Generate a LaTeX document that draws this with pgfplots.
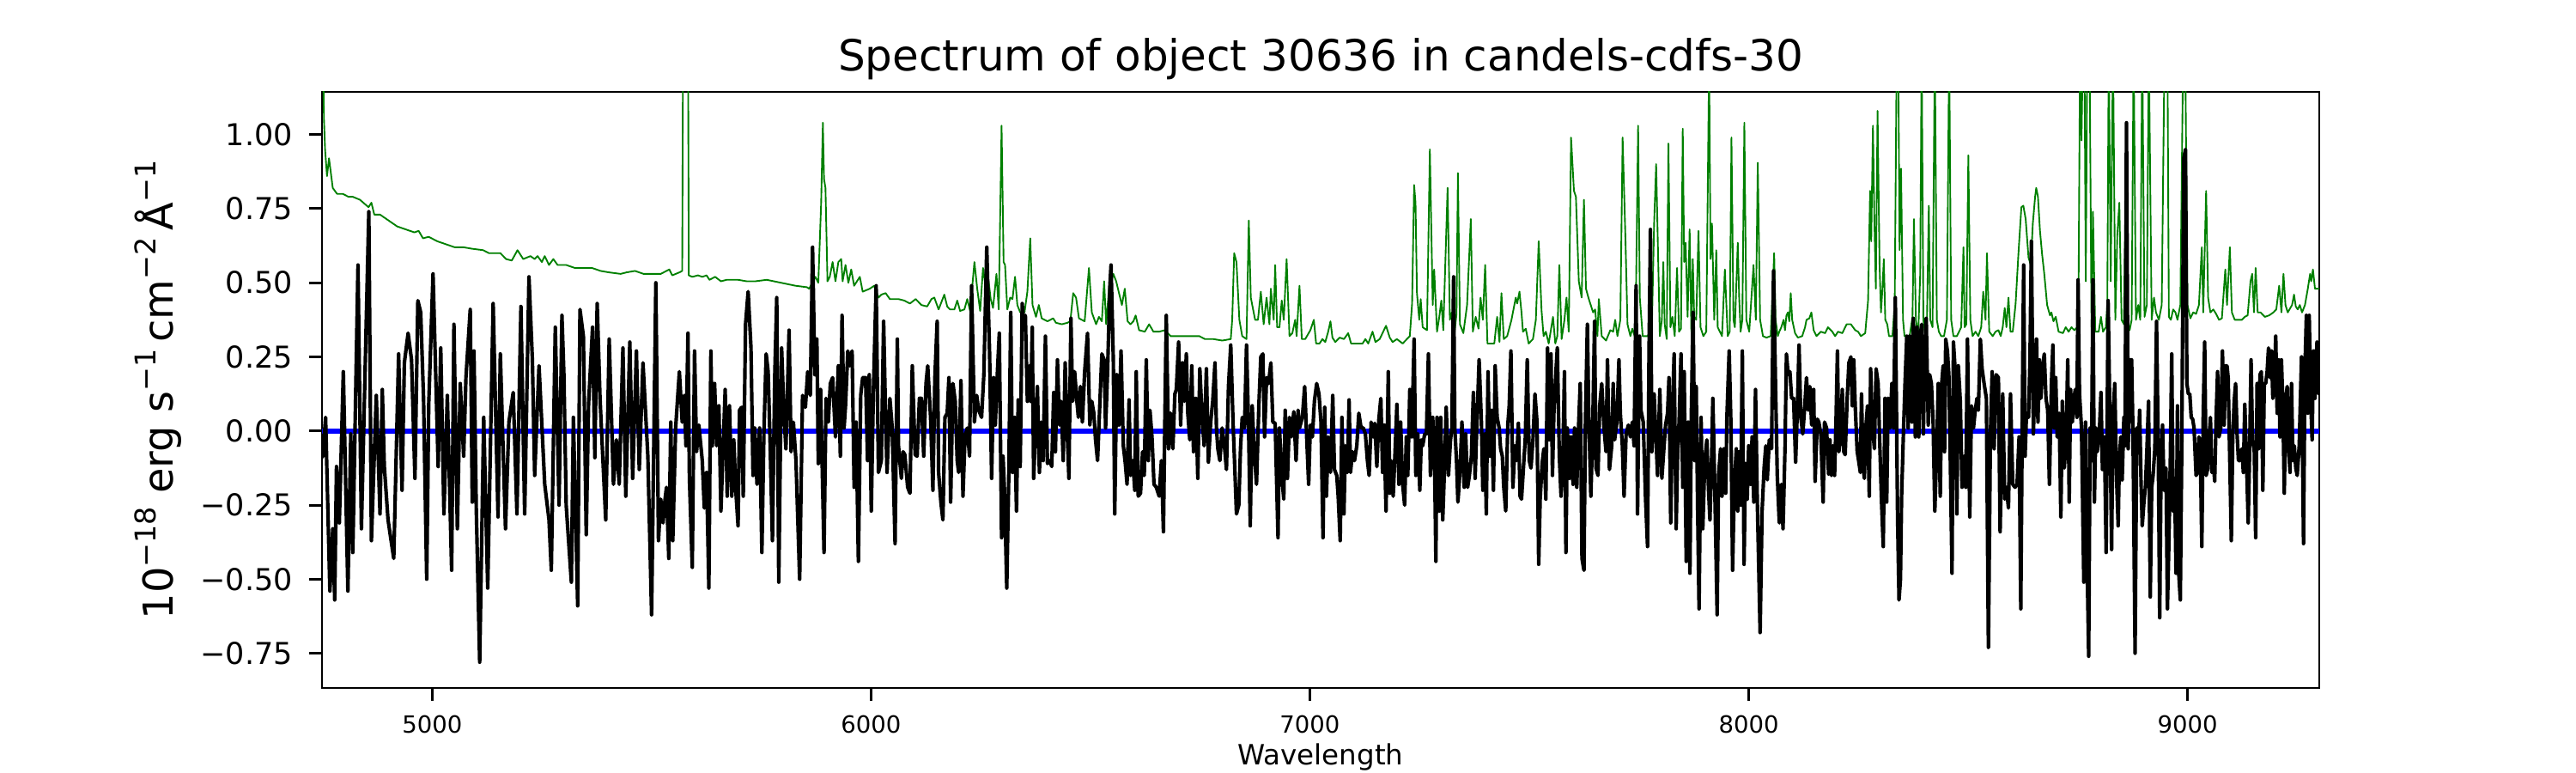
\documentclass[border=0pt]{standalone}
\usepackage{fontspec}
\setmainfont{DejaVu Sans}
\usepackage{pgfplots}
\pgfplotsset{compat=1.18}
\definecolor{mplgreen}{HTML}{008000}
\definecolor{mplblue}{HTML}{0000FF}
\newcommand\sups[1]{\raisebox{0.42em}{\fontsize{8}{8}\selectfont #1}}
\begin{document}
\begin{tikzpicture}
\path[use as bounding box] (0,0) rectangle (720pt,216pt);
\begin{axis}[
  at={(90pt,23.76pt)}, anchor=south west,
  scale only axis, width=558.24pt, height=166.56pt,
  xmin=4749, xmax=9300, ymin=-0.867, ymax=1.144,
  axis line style={line width=0.7pt},
  xtick={5000,6000,7000,8000,9000},
  xticklabels={5000,6000,7000,8000,9000},
  ytick={-0.75,-0.5,-0.25,0,0.25,0.5,0.75,1},
  yticklabels={−0.75,−0.50,−0.25,0.00,0.25,0.50,0.75,1.00},
  tick align=outside, xtick pos=bottom, ytick pos=left,
  major tick length=3.6pt,
  every tick/.style={black, line width=0.7pt},
  xticklabel style={font=\fontsize{6.6}{7}\selectfont, anchor=base, inner sep=0pt, yshift=-9.1pt},
  yticklabel style={font=\fontsize{8.4}{9}\selectfont, anchor=east, inner sep=0pt, xshift=-4.4pt},
  every axis title/.style={at={(axis description cs:0.5,1)}, anchor=base, yshift=5.76pt, inner sep=0pt, font=\fontsize{12}{14}\selectfont},
  every axis x label/.style={at={(axis description cs:0.5,0)}, anchor=base, yshift=-21.4pt, inner sep=0pt, font=\fontsize{7.8}{9}\selectfont},
  every axis y label/.style={at={(axis description cs:0,0.5)}, xshift=-41.6pt, rotate=90, anchor=base, inner sep=0pt, font=\fontsize{11.5}{13}\selectfont},
  title={Spectrum of object 30636 in candels-cdfs-30},
  xlabel={Wavelength},
  ylabel={10\sups{−18} erg s\sups{−1}\,cm\sups{−2}\,Å\sups{−1}},
  clip=true,
]
% error / sky spectrum
\addplot[mplgreen, line width=0.45pt, line join=round] coordinates {
(4749,1.5)(4751,1.3)(4753.5,1.05)(4756,0.95)(4760.4,0.86)(4765,0.92)(4773.5,0.82)(4783.3,0.80)(4796.3,0.80)(4809.4,0.79)(4819.2,0.79)(4835.5,0.78)(4855,0.755)(4861.6,0.77)(4868.1,0.73)(4881.2,0.73)(4900.8,0.71)(4920.4,0.69)(4940,0.68)(4959.5,0.67)(4969.3,0.675)(4979.1,0.65)(4992.2,0.655)(5011.7,0.64)(5031.3,0.63)(5050.9,0.62)(5070.5,0.62)(5090,0.615)(5116.2,0.61)(5129.2,0.60)(5155.3,0.60)(5168.4,0.58)(5181.4,0.575)(5194.5,0.61)(5207.5,0.58)(5223.9,0.59)(5233.6,0.58)(5240.2,0.59)(5250,0.57)(5256.5,0.59)(5266.3,0.56)(5276.1,0.58)(5285.9,0.56)(5305.4,0.56)(5325,0.55)(5344.6,0.55)(5364.2,0.55)(5383.8,0.54)(5403.4,0.535)(5429.5,0.53)(5442.6,0.535)(5462.1,0.54)(5481.7,0.53)(5520.9,0.53)
(5540.5,0.545)(5547,0.525)(5563.3,0.535)(5569.8,0.54)(5571.8,1.4)(5577,1.5)(5582.9,1.4)(5584.8,0.525)(5592.7,0.52)(5605.7,0.525)(5615.5,0.52)(5625.3,0.525)(5631.8,0.51)(5644.9,0.52)(5658,0.505)(5671,0.51)(5697.1,0.51)(5716.7,0.505)(5736.3,0.505)(5762.4,0.51)(5795,0.50)(5827.7,0.49)(5853.8,0.485)(5859,0.48)(5873.3,0.52)(5879.9,0.50)(5886.4,0.77)(5890.3,1.04)(5892.9,0.85)(5896.2,0.82)(5900.8,0.505)(5906,0.52)(5912.5,0.57)(5919,0.505)(5925.6,0.57)(5932.1,0.58)(5935.3,0.505)(5941.9,0.56)(5948.4,0.50)(5954.9,0.545)(5961.5,0.49)(5968,0.505)(5974.5,0.52)(5981,0.47)(5997.3,0.48)(6007.2,0.49)(6017,0.45)(6023.5,0.46)(6033.3,0.465)(6043,0.445)(6062.6,0.445)(6075.7,0.44)(6088.7,0.43)(6101.8,0.445)(6114.8,0.425)(6127.9,0.42)(6137.7,0.445)(6144.2,0.45)(6154,0.41)(6167,0.46)(6173.6,0.42)(6180,0.41)(6190,0.41)(6196.5,0.44)(6203,0.405)(6212.7,0.41)(6219.3,0.445)(6225.8,0.405)(6235.6,0.57)(6242,0.48)(6248.7,0.405)(6255.2,0.55)(6261.7,0.48)(6268,0.505)
(6272.7,0.445)(6278,0.415)(6285.8,0.53)(6291,0.41)(6297.5,1.03)(6302.1,0.57)(6305.4,0.56)(6310.6,0.41)(6317.1,0.45)(6322.3,0.445)(6328.2,0.52)(6333.4,0.425)(6340,0.40)(6349.8,0.40)(6356.3,0.47)(6362.8,0.65)(6368,0.425)(6375.9,0.385)(6382.4,0.425)(6388.9,0.38)(6402,0.37)(6415,0.38)(6421.5,0.365)(6434.6,0.36)(6447.6,0.365)(6454.2,0.37)(6460.7,0.465)(6467.2,0.45)(6473.8,0.38)(6486.8,0.37)(6496.6,0.55)(6503.1,0.40)(6512.9,0.36)(6519.4,0.385)(6526,0.37)(6531.2,0.505)(6535.8,0.36)(6542.3,0.48)(6552.1,0.53)(6558.6,0.505)(6565.1,0.465)(6571.7,0.425)(6578.2,0.48)(6584.7,0.37)(6591.3,0.36)(6597.8,0.37)(6603,0.39)(6610.8,0.34)(6623.9,0.335)(6633.7,0.36)(6643.5,0.335)(6656.5,0.335)(6669.6,0.34)(6682.6,0.32)(6695.7,0.32)(6708.7,0.32)(6721.8,0.32)(6734.8,0.32)(6747.9,0.32)(6761,0.31)(6780.5,0.31)(6800.1,0.305)(6819.7,0.31)(6823,0.375)(6827.5,0.60)(6832.7,0.57)(6839.3,0.375)(6845.8,0.32)(6855.6,0.31)(6860.8,0.71)(6865.4,0.45)(6875.2,0.375)(6881.7,0.375)(6888.2,0.47)(6894.7,0.36)(6901.3,0.45)(6907.8,0.36)(6911.1,0.48)(6917.6,0.375)(6920.9,0.56)(6925.4,0.35)(6930.7,0.35)(6935.9,0.44)(6940.5,0.375)(6947,0.58)(6953.5,0.32)(6960,0.33)(6966.5,0.375)(6969.8,0.32)(6976.3,0.49)(6981.6,0.31)(6989.4,0.31)(7001.1,0.34)(7009,0.375)(7014.2,0.295)(7022,0.295)(7028.6,0.31)
(7035.1,0.30)(7041.7,0.335)(7046.9,0.37)(7051.4,0.315)(7058,0.30)(7067.8,0.315)(7077.6,0.31)(7087.3,0.33)(7093.9,0.295)(7106.9,0.295)(7120,0.295)(7126.5,0.31)(7133,0.295)(7142.8,0.335)(7149.4,0.30)(7159.1,0.31)(7173.5,0.355)(7182,0.315)(7188.5,0.30)(7198.3,0.31)(7211.4,0.295)(7221.1,0.31)(7227.7,0.32)(7232.9,0.43)(7237.5,0.83)(7240.7,0.77)(7244,0.465)(7249.2,0.375)(7252.5,0.445)(7257,0.35)(7266.8,0.34)(7273.4,0.95)(7279.9,0.425)(7283.2,0.545)(7289.7,0.335)(7294.9,0.385)(7299.5,0.44)(7304,0.34)(7313.8,0.82)(7319,0.375)(7323.6,0.40)(7328.8,0.32)(7334.1,0.395)(7337.3,0.87)(7341.9,0.36)(7349.7,0.33)(7358.2,0.425)(7366.7,0.715)(7371.3,0.335)(7377.8,0.385)(7384.3,0.345)(7388.9,0.45)(7394.1,0.375)(7399.4,0.56)(7404.6,0.295)(7413.7,0.295)(7420.2,0.295)(7426.7,0.385)(7432,0.30)(7436.5,0.465)(7441.8,0.31)(7449.6,0.32)(7459.4,0.375)(7462.6,0.40)(7469.2,0.45)(7472.4,0.43)(7477.6,0.47)(7482.2,0.40)(7485.5,0.335)(7492,0.345)(7498.5,0.295)(7508.3,0.31)(7514.9,0.375)(7521.4,0.64)(7527.9,0.406)(7532.5,0.32)(7537.7,0.335)(7544.2,0.295)(7554,0.385)(7559.2,0.295)(7563.8,0.32)(7568.4,0.56)(7573.6,0.31)(7580.1,0.375)(7584.7,0.45)(7589.9,0.335)(7595.1,0.99)(7601.7,0.81)(7606.2,0.79)(7612.8,0.505)(7619.3,0.45)(7624.5,0.78)(7629.1,0.48)(7635.6,0.445)(7645.4,0.40)(7650,0.41)(7655.2,0.32)(7658.4,0.445)(7665,0.32)(7674.8,0.305)(7684.6,0.34)(7691.1,0.335)(7695.7,0.375)(7700.8,0.32)(7707.4,0.375)(7712.6,0.99)(7719.2,0.64)(7723.7,0.36)(7730.3,0.32)(7734.8,0.345)(7740.1,0.32)(7743.3,0.49)(7747.9,1.03)(7751.8,0.45)(7758.3,0.32)(7762.9,0.32)(7769.4,0.32)(7779.2,0.345)(7784.4,0.70)(7789,0.90)
(7797.4,0.32)(7802,0.375)(7805.3,0.57)(7808.5,0.36)(7813.1,0.31)(7817,0.97)(7821.6,0.35)(7826.1,0.385)(7831.4,0.32)(7836.6,0.55)(7841.2,0.335)(7845.7,0.345)(7849.6,1.02)(7852.9,0.57)(7856.2,0.635)(7860.7,0.385)(7865.3,0.68)(7869.2,0.335)(7872.5,0.58)(7875.7,0.385)(7880.3,0.375)(7885.5,0.675)(7890.1,0.35)(7896.6,0.32)(7903.2,0.335)(7909.7,1.25)(7913,0.58)(7916.2,0.70)(7921.4,0.375)(7926,0.61)(7929.3,0.35)(7939.1,0.32)(7945.6,0.545)(7952.1,0.32)(7956.7,0.335)(7960.6,0.99)(7965.2,0.375)(7968.4,0.35)(7975,0.635)(7978.2,0.45)(7981.5,0.335)(7985.4,0.375)(7990,1.04)(7994.5,0.375)(8001.1,0.335)(8010.9,0.56)(8016.1,0.375)(8020.6,0.905)(8025.9,0.375)(8032.4,0.32)(8040.2,0.315)(8050,0.32)(8054.6,0.48)(8057.9,0.60)(8061.1,0.375)(8066.3,0.32)(8069.6,0.335)(8074.2,0.35)(8079.4,0.375)(8082.6,0.34)(8085.9,0.39)(8089.2,0.40)(8092.4,0.37)(8095.7,0.465)(8099,0.375)(8105.5,0.33)(8112,0.315)(8121.8,0.32)(8128.3,0.35)(8131.6,0.375)(8138.1,0.38)(8142.7,0.40)(8147.9,0.34)(8154.4,0.32)(8164.2,0.335)(8174,0.33)(8180.5,0.35)(8187.1,0.34)(8190.3,0.335)(8196.9,0.32)(8203.4,0.335)(8213.2,0.33)(8223,0.36)(8232.8,0.36)(8242.6,0.34)(8249.1,0.335)(8255.6,0.32)(8265.4,0.33)(8271.9,0.44)(8276.5,0.81)(8279.1,0.64)(8283,1.03)(8286.3,0.71)(8289.6,0.48)(8293.5,1.08)(8298.1,0.56)(8301.3,0.40)(8304.6,0.48)(8307.8,0.58)(8311.1,0.375)(8315.7,0.36)(8319.6,0.32)(8327.4,0.32)(8332.6,0.425)(8337.2,1.3)(8340.5,1.3)(8343.7,0.61)(8347,0.885)(8351.6,0.375)(8354.9,0.32)(8360.1,0.32)(8366.6,0.32)(8373.1,0.385)(8376.4,0.715)(8380.9,0.375)(8386.1,0.32)(8390.7,0.53)(8394,1.3)(8397.9,0.375)(8402.5,0.32)(8405.7,0.335)(8410.3,0.76)(8413.6,0.375)(8418.8,0.35)(8424,1.3)(8428.6,0.375)(8433.2,0.335)(8438.4,0.32)(8444.9,0.32)(8451.5,0.375)(8456.7,1.3)(8461.3,0.375)(8466.4,0.32)(8474.3,0.32)(8484.1,0.35)(8489.3,0.62)(8491.9,0.35)(8495.8,0.36)(8500.4,0.93)(8504.9,0.375)(8510.1,0.32)(8516.7,0.335)(8523.2,0.32)(8529.7,0.35)(8534.3,0.47)(8539.5,0.375)(8542.8,0.60)(8548,0.335)(8555.9,0.32)
(8562.4,0.335)(8569,0.34)(8574.2,0.32)(8578.7,0.35)(8583.3,0.415)(8587.2,0.35)(8591.8,0.45)(8596.4,0.335)(8601.6,0.335)(8608.1,0.43)(8614.6,0.60)(8621.2,0.755)(8625.7,0.76)(8631,0.715)(8637.5,0.585)(8642.7,0.56)(8647.3,0.70)(8652.5,0.79)(8655.1,0.82)(8659,0.79)(8663.6,0.675)(8668.2,0.60)(8673.4,0.53)(8679.9,0.425)(8686.4,0.39)(8689.7,0.40)(8694.3,0.37)(8699.5,0.385)(8706,0.335)(8715.8,0.33)(8722.3,0.35)(8728.9,0.335)(8735.4,0.35)(8741.9,0.34)(8748.4,0.35)(8751.7,0.52)(8755,1.3)(8758.2,0.98)(8761.5,1.3)(8764.8,1.3)(8768,0.505)(8771.3,1.3)(8776.5,1.3)(8781.1,0.35)(8784.3,0.74)(8789.6,0.335)(8797.4,0.335)(8802.6,0.385)(8807.2,0.335)(8813.7,0.35)(8817,0.425)(8820.3,1.3)(8824.8,0.505)(8830,1.3)(8835.3,0.375)(8839.8,0.66)(8844.4,0.77)(8849.6,0.375)(8854.8,0.36)(8859.4,0.90)(8862.7,0.375)(8867.9,0.34)(8872.5,0.375)(8877,1.3)(8882.3,0.375)(8887.5,0.425)(8892.1,0.375)(8896.6,1.3)(8901.8,0.385)(8907.1,0.425)(8911.6,1.3)(8918.1,0.375)(8923.4,0.45)(8927.9,0.40)(8934.5,0.375)(8941,0.425)(8947.5,1.3)(8954,1.3)(8957.3,0.385)(8961.9,0.375)(8967.1,0.41)(8972.3,0.40)(8976.9,0.375)(8983.4,0.425)(8990,1.3)(8994.5,1.3)(8999.7,0.425)(9006.3,0.38)(9012.8,0.40)(9019.3,0.395)(9025.8,0.425)(9032.4,0.62)(9035.6,0.40)(9042.2,0.81)(9046.7,0.45)(9051.9,0.40)(9058.5,0.41)(9065,0.395)(9071.5,0.375)(9078.1,0.38)(9085.9,0.545)(9089.8,0.425)(9096.3,0.62)(9100.9,0.40)(9107.4,0.375)(9117.2,0.375)(9123.7,0.375)(9130.3,0.385)(9136.8,0.39)(9143.3,0.505)(9147.2,0.53)(9151.2,0.40)(9155.1,0.55)(9159.6,0.40)(9166.2,0.40)(9175.9,0.385)(9185.8,0.39)(9195.5,0.40)(9202.1,0.41)(9208.6,0.49)(9213.8,0.40)(9218.4,0.53)(9223,0.425)(9228.2,0.40)(9238,0.425)(9242.5,0.46)(9246.5,0.42)(9251,0.41)(9255.6,0.425)(9260.8,0.40)(9267.4,0.425)(9273.9,0.48)(9279.1,0.53)(9281.7,0.505)(9285.6,0.545)(9290.2,0.48)(9296.7,0.48)(9300,0.48)
};
% model (zero level)
\addplot[mplblue, line width=1.5pt] coordinates {(4749,0) (9300,0)};
% observed spectrum
\addplot[black, line width=1pt, line join=round] coordinates {
(4749,-0.09)(4750.7,-0.085)(4757.2,0.046)(4767,-0.54)(4773.5,-0.33)(4778,-0.57)(4782,-0.12)(4788.5,-0.31)(4797.6,0.20)(4808,-0.54)(4814.6,-0.01)(4819.2,-0.41)(4831,0.56)(4838.8,-0.33)(4847.3,0.21)(4855.7,0.74)(4861.6,-0.37)(4872.7,0.12)(4881.2,-0.28)(4886.4,0.14)(4891,-0.12)(4899.5,-0.30)(4912.5,-0.43)(4923.6,0.26)(4931.4,-0.20)(4936.7,0.23)(4945.2,0.33)(4953,0.24)(4960.8,-0.16)(4967.4,0.44)(4973.9,0.40)(4980.4,0.11)(4987.6,-0.50)(4992.2,0.09)(5002,0.53)(5013.7,-0.12)(5019.6,0.28)(5026.8,-0.28)(5034.6,0.12)(5044.4,-0.47)(5049.6,0.36)(5057.4,-0.33)(5064,0.16)(5071.8,-0.085)(5077,0.18)(5086.8,0.41)(5091.4,-0.24)(5095.3,0.27)(5100.5,-0.26)(5108.3,-0.78)(5117.5,0.046)(5126.6,-0.53)(5139,0.43)(5150.1,-0.29)(5155.3,0.26)(5167.1,-0.33)(5174.9,0.03)(5184.7,0.13)(5193.2,-0.28)(5202.3,0.42)(5210.8,-0.28)(5220.6,0.52)(5228.4,0.24)(5233.6,-0.15)(5243.5,0.22)(5256.5,-0.18)(5266.3,-0.30)(5271.5,-0.47)(5280.6,0.35)(5289.1,-0.25)(5295.7,0.39)(5300.2,0.19)(5305.4,-0.25)(5317.2,-0.51)(5321.8,0.046)(5331.6,-0.59)(5336.8,0.41)(5344.6,0.32)(5351.1,-0.35)(5356.4,0.09)(5365.5,0.35)(5370.7,-0.09)(5376,0.43)(5382.5,0.11)(5395.5,-0.30)(5403.4,0.31)(5413.1,-0.18)(5419.7,-0.03)(5426.2,-0.18)(5434.7,0.28)(5441.2,-0.22)(5450.4,0.30)(5456.9,-0.16)(5465.4,0.27)(5471.9,-0.13)(5480.4,0.23)(5491.5,-0.085)(5500,-0.62)(5509.7,0.50)(5515.7,-0.37)
(5520.9,-0.23)(5526.1,-0.31)(5530.7,-0.23)(5533.9,-0.19)(5539.2,-0.43)(5543.7,0.03)(5548.3,-0.37)(5554.8,0.01)(5563.3,0.20)(5569.8,0.03)(5574.4,0.12)(5578.3,-0.05)(5582.9,0.33)(5586.2,-0.16)(5592.7,-0.46)(5597.9,0.27)(5602.5,-0.07)(5607.7,0.02)(5615.5,-0.10)(5620.1,-0.26)(5625.3,-0.14)(5630.5,-0.53)(5635.1,0.27)(5638.4,-0.05)(5643.6,0.16)(5648.2,-0.05)(5653.4,0.085)(5658,-0.27)(5667.7,0.14)(5672.3,-0.22)(5677.5,0.085)(5682.8,-0.22)(5687.3,-0.03)(5691.9,-0.20)(5697.1,-0.32)(5700.4,0.07)(5705,0.08)(5708.9,-0.22)(5714.1,0.36)(5720,0.47)(5726.5,0.28)(5731.1,-0.15)(5735,0.01)(5740.2,-0.18)(5746.1,0.01)(5751.3,-0.41)(5755.9,-0.01)(5761.1,0.26)(5765.6,0.20)(5770.2,-0.05)(5775.4,-0.37)(5780.7,0.19)(5785.2,0.45)(5789.8,-0.51)(5796.3,0.28)(5801.5,0.06)(5806.1,-0.06)(5813.3,0.34)(5817.9,-0.07)(5823.1,0.03)(5829,-0.10)(5837.4,-0.50)(5844,0.12)(5850.5,0.08)(5855.7,0.20)(5861.6,0.12)(5866.8,0.62)(5872,0.19)(5876.6,0.31)(5879.9,-0.11)(5885.1,0.14)(5892.9,-0.41)(5897.5,0.11)(5902.7,0.03)(5907.3,0.16)(5912.5,0.18)(5919,-0.02)(5923.6,0.15)(5925.6,0.22)(5930.1,-0.085)(5934,0.39)(5938.6,0.01)(5941.9,0.085)(5947.1,0.27)(5951.7,0.22)(5956.9,0.27)(5961.5,-0.19)(5966,0.03)(5971.2,-0.44)(5976.5,0.12)(5981,0.18)(5987.6,0.18)(5992.1,-0.10)(5996,0.19)(6000.6,-0.27)(6005.2,0.12)(6011.7,0.49)(6016.9,-0.14)(6023.5,-0.10)(6028.7,0.37)(6033.3,0.04)(6036.5,-0.14)(6043,0.11)(6048.3,0.01)(6054.8,-0.38)(6060,0.31)(6062.6,-0.05)(6069.2,-0.16)(6073.1,-0.07)(6077,-0.08)(6083.5,-0.19)(6088.7,-0.21)(6094,0.22)(6100.5,-0.08)(6105.1,-0.085)(6110.3,0.11)(6114.8,0.11)(6120.1,-0.085)(6125.3,0.16)(6129.2,0.22)(6135.7,0.046)(6141,-0.20)(6145.5,0.18)(6150.7,0.37)(6154,-0.14)(6159.2,-0.24)(6163.8,-0.30)(6168.4,0.046)(6173.6,0.06)(6177.5,0.18)(6181.4,-0.24)(6186.7,0.16)(6191.9,0.10)(6196.4,-0.10)(6199.7,-0.14)(6204.9,0.17)(6209.5,-0.22)(6214.1,-0.02)(6219.3,0.01)(6224.5,-0.085)(6229.1,0.49)(6235.6,0.03)(6240.8,0.12)(6245.4,0.07)(6251.9,0.046)(6257.1,0.19)(6263.7,0.62)(6270.2,0.26)(6274.8,-0.16)(6279.3,0.18)
(6283.2,0.02)(6287.7,0.19)(6292.3,0.33)(6297.5,-0.36)(6300.8,-0.085)(6304.1,-0.20)(6309.3,-0.53)(6313.9,-0.15)(6318.4,0.40)(6322.3,-0.14)(6326.9,0.046)(6331.5,-0.27)(6335.4,0.105)(6339.9,-0.12)(6344.5,0.43)(6348.4,0.35)(6351.7,0.39)(6356.3,0.10)(6360.8,0.22)(6364.1,0.10)(6367.4,0.35)(6370.6,-0.16)(6374.6,-0.01)(6379.1,0.15)(6383.7,-0.14)(6387.6,0.03)(6392.2,-0.10)(6397.4,0.32)(6402,-0.11)(6407.2,-0.10)(6411.8,-0.12)(6416.3,0.13)(6420.2,-0.07)(6424.8,0.24)(6429.4,0.02)(6433.3,0.10)(6437.9,-0.10)(6442.4,0.23)(6446.3,0.03)(6450.9,-0.16)(6455.5,0.38)(6459.4,0.10)(6464,0.20)(6468.5,0.11)(6472.5,0.046)(6477,0.15)(6481.6,0.03)(6486.8,0.20)(6493.3,0.33)(6498.6,0.02)(6503.1,0.10)(6507.7,0.06)(6511.6,-0.03)(6516.2,-0.10)(6520.8,0.07)(6526,0.26)(6531.2,0.24)(6534.5,0.01)(6539,0.20)(6544.3,0.49)(6546.9,0.56)(6552.1,0.24)(6555.3,-0.28)(6559.9,0.19)(6565.1,0.02)(6569.7,0.27)(6574.9,-0.05)(6579.5,-0.11)(6583.4,-0.18)(6588,0.105)(6591.3,-0.15)(6596.5,-0.10)(6601,-0.20)(6604.3,0.20)(6608.9,-0.22)(6614.1,-0.21)(6618.7,-0.07)(6622.6,-0.15)(6627.2,0.24)(6631.7,-0.10)(6635.6,0.07)(6640.2,-0.02)(6644.8,-0.18)(6650,-0.19)(6656.5,-0.22)(6661.7,-0.10)(6666.3,-0.34)(6669.6,0.046)(6672.8,0.39)(6678,-0.06)(6682.6,0.06)(6687.8,-0.06)(6692.4,0.125)(6695.7,0.14)(6700.9,0.30)(6705.5,0.02)(6710,0.23)(6713.9,0.10)(6718.5,0.26)(6721.8,0.06)(6726.4,-0.03)(6730.9,0.22)(6734.8,-0.07)(6740.1,0.11)(6744.6,-0.16)(6749.2,0.21)(6754.4,0.046)(6759,-0.05)(6764.2,0.21)(6768.8,-0.105)(6774,0.03)(6778.6,0.10)(6783.8,0.23)(6787.1,0.01)(6790.3,-0.06)(6794.9,-0.10)(6800.1,0.01)(6805.3,-0.05)(6809.9,-0.13)(6814.5,0.15)(6819.7,0.29)(6824.9,0.03)(6829.5,-0.15)(6832.7,-0.28)(6838,-0.25)(6841.9,-0.06)(6845.8,0.046)(6851,0.01)(6855.6,0.29)(6860.2,0.02)(6864.1,-0.32)(6868.6,0.085)(6873.2,-0.07)(6878.4,-0.18)(6883.7,0.085)(6888.2,0.25)(6892.8,0.26)(6896.7,-0.02)(6901.3,0.18)(6905.8,0.16)(6911.1,0.23)(6915.6,0.03)(6920.9,0.026)(6927.4,-0.36)(6930.7,0.01)(6935.9,-0.15)(6940.5,-0.23)(6943.7,0.07)(6948.9,-0.16)(6953.5,0.046)(6958.1,-0.02)(6963.3,0.065)(6968.5,-0.10)(6973.1,0.07)(6976.3,0.01)(6982.9,0.046)(6988.1,0.15)(6992.7,-0.02)(6997.2,-0.18)(7001.1,0.02)(7005.7,-0.02)(7010.3,0.10)(7015.5,0.16)(7020.7,0.125)(7025.3,0.03)(7029.9,-0.36)
(7033.8,0.08)(7037.7,-0.22)(7041.7,-0.02)(7046.9,-0.14)(7052.1,0.12)(7056,-0.13)(7061.2,-0.15)(7064.5,-0.22)(7069.1,-0.37)(7073,0.046)(7077.6,-0.28)(7080.8,-0.05)(7085.4,-0.14)(7089.3,0.105)(7092.6,-0.14)(7097.1,-0.07)(7101.7,-0.10)(7106.9,-0.05)(7111.5,0.06)(7116.7,0.01)(7121.9,0.01)(7126.5,-0.01)(7131.1,-0.10)(7135,-0.15)(7139.6,0.03)(7144.1,-0.02)(7148,0.026)(7152.6,-0.12)(7157.2,0.04)(7161.7,0.11)(7165.7,-0.14)(7168.9,0.02)(7173.5,-0.27)(7178.7,0.20)(7182,-0.21)(7185.1,-0.10)(7189.8,-0.22)(7193.7,-0.085)(7198.3,0.09)(7202.9,-0.18)(7206.8,0.03)(7211.4,-0.18)(7215.9,-0.25)(7219.8,-0.02)(7223.1,-0.15)(7227.7,0.14)(7232.2,-0.02)(7237.5,0.31)(7241.4,-0.15)(7246,-0.01)(7250.5,-0.20)(7253.8,-0.03)(7257,-0.05)(7261.6,-0.01)(7265.5,-0.01)(7270.1,0.26)(7274.7,-0.15)(7279.9,0.046)(7284.5,-0.14)(7287.1,-0.44)(7289.7,0.046)(7294.9,-0.27)(7298.2,0.046)(7302.7,-0.30)(7307.3,-0.10)(7310.6,0.08)(7315.8,-0.15)(7320.4,-0.03)(7323.6,0.01)(7327.5,0.52)(7330.2,0.01)(7334.1,-0.10)(7337.3,-0.24)(7341.9,-0.14)(7346.5,0.03)(7351.7,-0.19)(7355,-0.01)(7359.5,-0.19)(7363.4,-0.15)(7368,-0.085)(7372.6,0.13)(7376.5,-0.16)(7381.1,0.046)(7385.6,0.24)(7390.9,0.026)(7394.1,-0.20)(7398.7,-0.01)(7402,-0.28)(7405.9,0.20)(7409.8,-0.085)(7413.7,0.07)(7418.3,-0.20)(7422.2,0.22)(7426.7,0.046)(7431.3,0.01)(7434.6,-0.06)(7438.5,-0.085)(7441.8,-0.19)(7446.3,-0.27)(7450.9,0.02)(7454.2,0.085)(7458.1,0.27)(7462.6,-0.19)(7467.2,-0.05)(7471.1,-0.10)(7475.1,0.026)(7479,-0.22)(7482.2,-0.23)(7486.8,-0.12)(7490.7,-0.03)(7495.3,0.24)(7499.9,-0.10)(7503.8,-0.125)(7508.3,-0.03)(7512.9,0.125)(7517.5,0.03)(7521.4,-0.45)(7524.7,-0.23)(7529.2,-0.11)(7533.1,-0.06)(7537.7,-0.23)(7541.6,0.28)(7545.5,-0.03)(7549.5,0.26)(7552.7,-0.15)(7556,0.06)(7560.6,0.20)(7563.8,0.28)(7568.4,-0.085)(7572.3,-0.22)(7576.9,-0.05)(7580.1,0.20)(7583.4,-0.41)(7586.7,0.01)(7591.2,-0.16)(7595.1,-0.02)(7599.7,-0.18)(7603,0.01)(7608.2,-0.19)(7612.1,0.01)(7616,0.16)(7620,-0.43)(7624.5,-0.47)(7627.8,0.03)(7632.3,0.36)(7635.6,0.046)(7640.2,-0.22)(7644.1,-0.02)(7648.7,0.37)(7651.9,-0.125)(7656.5,-0.15)(7660.4,0.085)(7665,0.16)(7670.2,0.01)(7674.8,-0.07)(7678.1,0.24)(7682.6,-0.13)(7687.8,-0.05)(7691.1,0.16)(7694.4,-0.03)(7699.6,0.03)(7704.2,0.24)(7707.4,0.06)(7712,-0.05)(7715.9,-0.22)(7720.5,-0.01)(7725.7,0.02)(7730.3,-0.02)(7734.8,0.03)(7738.7,-0.05)(7743.3,0.49)(7746.6,-0.28)(7751.2,0.32)(7754.4,0.07)(7759.6,0.03)(7764.9,-0.23)(7769.4,-0.39)(7772.7,0.26)(7776,0.68)(7779.2,-0.07)(7784.4,0.125)
(7792.2,-0.15)(7797.4,0.14)(7802,-0.16)(7806.6,-0.06)(7810.5,0.02)(7815,0.06)(7818.3,0.18)(7822.2,-0.31)(7826.1,0.07)(7830,0.26)(7834.6,-0.33)(7837.9,-0.085)(7841.2,0.03)(7845.7,0.26)(7849.6,-0.19)(7852.9,0.20)(7857.5,-0.44)(7862,0.03)(7866,-0.48)(7869.2,0.06)(7873.1,0.40)(7877,-0.10)(7880.3,0.15)(7883.6,-0.27)(7886.8,-0.60)(7891.4,0.046)(7895.3,-0.33)(7899.9,-0.10)(7904.5,-0.03)(7908.4,-0.20)(7911.6,-0.30)(7914.9,-0.125)(7918.2,0.11)(7922.7,-0.20)(7928,-0.62)(7931.2,-0.15)(7935.8,-0.06)(7939.1,-0.22)(7943.6,-0.06)(7947.5,-0.21)(7950.2,0.046)(7955.4,0.27)(7959.3,0.03)(7963.2,-0.47)(7967.1,-0.18)(7971.7,-0.06)(7975,-0.27)(7978.2,-0.07)(7981.5,-0.25)(7985.4,0.27)(7989.3,-0.45)(7992.6,-0.11)(7996.5,-0.23)(7999.8,-0.05)(8004.3,-0.18)(8007.6,-0.02)(8011.5,-0.24)(8015.4,0.14)(8019.3,-0.22)(8025.9,-0.68)(8030.4,-0.27)(8035,-0.125)(8038.9,-0.05)(8042.2,-0.165)(8046.8,-0.03)(8052,-0.06)(8056.5,0.54)(8061.1,0.15)(8065,-0.15)(8069.6,-0.31)(8074.2,-0.18)(8078.1,-0.33)(8082.6,-0.06)(8085.9,0.26)(8089.8,0.19)(8093.8,0.20)(8097.7,0.11)(8102.2,0.11)(8106.8,-0.105)(8110.7,0.07)(8114.6,0.29)(8118.6,0.046)(8123.1,-0.01)(8127,0.07)(8131.6,0.18)(8135.5,0.07)(8139.4,0.15)(8143.4,0.02)(8147.9,0.14)(8151.2,-0.17)(8156.4,0.04)(8159.7,0.03)(8164.2,-0.01)(8169.5,-0.24)(8172.7,0.03)(8177.3,0.01)(8181.9,-0.145)(8185.1,-0.03)(8188.4,-0.15)(8191.7,-0.05)(8195.6,-0.15)(8198.8,0.03)(8202.1,0.27)(8205.4,-0.07)(8208.6,-0.03)(8213.2,0.14)(8216.5,-0.07)(8219.7,-0.08)(8224.3,0.11)(8228.2,0.23)(8232.8,0.25)(8236,0.085)(8239.3,0.24)(8242.6,0.085)(8247.1,-0.07)(8250.4,-0.10)(8254.3,-0.14)(8256.9,0.125)(8260.8,-0.125)(8263.5,-0.16)(8266.7,0.01)(8270.6,0.085)(8274.6,-0.22)(8277.8,0.21)(8281.7,0.02)(8286.3,-0.06)(8290.2,0.21)(8294.8,0.16)(8298.1,-0.02)(8302.6,-0.24)(8306.5,-0.39)(8310.4,0.11)(8314.4,-0.24)(8317.6,0.11)(8322.2,0.01)(8326.1,0.16)(8330,0.01)(8334,0.45)(8339.2,-0.30)(8342.4,-0.57)(8345.7,-0.50)(8348.3,-0.22)(8352.2,-0.02)(8356.1,0.16)(8360.1,0.32)(8363.3,0.01)(8366.6,0.32)(8371.8,0.03)(8375.1,0.38)(8379.6,-0.02)(8383.5,0.35)(8387.5,-0.02)(8390.7,0.32)(8394,0.36)(8397.9,-0.01)(8401.2,0.25)(8404.4,0.38)(8409,0.02)(8412.3,0.19)(8416.2,0.16)(8420.1,0.03)(8424,-0.27)(8428.6,-0.05)(8431.8,0.16)(8436.4,-0.22)(8439.7,0.16)(8442.9,0.22)(8446.2,-0.07)(8448.8,0.31)(8452.7,0.27)(8456,0.19)(8459.3,-0.10)(8463.2,-0.48)(8466.4,0.30)(8471,0.19)(8474.3,-0.28)(8477.5,0.22)(8482.1,0.10)(8486,-0.19)(8490.6,-0.085)(8494.5,-0.19)(8498.4,0.31)(8503.6,-0.29)(8507.6,0.085)(8512.1,0.01)(8515.4,0.06)(8520,0.11)(8523.2,0.07)(8527.8,0.31)(8531.7,0.21)(8536.3,0.16)(8541.5,0.11)(8546.1,-0.73)(8550.7,-0.01)(8554.6,0.20)(8559.1,-0.06)(8563.7,0.19)(8568.9,0.18)(8572.8,-0.34)
(8578.7,0.125)(8583.3,-0.23)(8587.2,-0.19)(8591.8,-0.26)(8596.4,0.125)(8601.6,-0.18)(8606.8,-0.19)(8611.4,-0.18)(8616,-0.02)(8619.9,-0.60)(8623.1,0.02)(8626.4,0.56)(8629.7,-0.085)(8632.9,0.06)(8637.5,0.046)(8640.8,0.24)(8644,0.64)(8648.6,-0.01)(8652.5,0.19)(8655.8,0.31)(8659,0.03)(8662.3,0.24)(8665.6,0.11)(8670.1,0.22)(8673.4,0.26)(8677.3,0.11)(8681.2,0.07)(8685.1,-0.18)(8689.7,0.16)(8693,0.29)(8696.2,0.01)(8699.5,0.18)(8702.8,-0.02)(8707.3,0.06)(8711.2,-0.29)(8714.5,0.10)(8719.1,-0.125)(8723,-0.03)(8726.9,0.24)(8730.2,-0.24)(8733.4,0.14)(8737.3,0.03)(8740.6,0.10)(8743.9,0.14)(8747.8,0.046)(8750.4,0.51)(8753.7,0.125)(8758.2,0.01)(8763.5,-0.51)(8767.4,0.03)(8771.3,-0.47)(8774.6,-0.76)(8777.8,0.01)(8781.1,-0.10)(8784.3,0.51)(8787.6,-0.24)(8790.9,0.01)(8794.1,-0.07)(8798.7,-0.01)(8802.6,0.13)(8805.9,-0.13)(8810.4,-0.02)(8814.4,-0.41)(8818.9,0.44)(8823.5,-0.01)(8826.8,-0.40)(8830,0.046)(8834,0.16)(8837.9,-0.15)(8841.8,-0.32)(8844.4,-0.10)(8847.7,-0.02)(8850.9,-0.165)(8854.8,0.046)(8857.4,-0.05)(8860.7,1.04)(8864.6,-0.06)(8869.2,0.24)(8872.5,0.24)(8875.7,-0.03)(8880.3,-0.75)(8884.2,0.01)(8887.5,-0.07)(8890.7,0.07)(8894,-0.18)(8896.6,-0.32)(8900.5,-0.24)(8903.8,-0.19)(8907.1,-0.07)(8911,0.10)(8914.9,-0.56)(8918.2,-0.19)(8921.4,-0.15)(8925.3,-0.06)(8929.2,0.37)(8933.2,-0.07)(8936.4,-0.63)(8939.7,-0.085)(8943,0.02)(8946.2,-0.20)(8950.8,-0.125)(8954,-0.60)(8957.3,-0.38)(8960.6,-0.10)(8963.8,0.26)(8967.1,-0.27)(8970.4,-0.16)(8973.6,-0.48)(8976.9,0.085)(8980.2,-0.49)(8983.4,-0.57)(8986.7,-0.05)(8991.2,0.92)(8995.2,0.95)(8998.4,0.16)(9001.7,0.125)(9005,0.125)(9008.2,0.046)(9011.5,0.04)(9014.7,0.01)(9019.3,-0.15)(9022.6,-0.14)(9025.8,-0.02)(9029.1,-0.085)(9032.4,-0.39)(9035.6,0.06)(9038.9,0.30)(9042.2,-0.15)(9045.4,-0.13)(9048.7,-0.03)(9052,0.046)(9055.2,-0.14)(9058.5,-0.10)(9061.7,-0.17)(9065,0.046)(9068.3,0.20)(9071.5,-0.02)(9075.4,0.01)(9079.4,0.27)(9083.3,0.02)(9086.5,0.22)(9089.8,0.22)(9092.4,0.18)(9095.7,-0.07)(9099.6,-0.37)(9102.9,-0.02)(9106.1,0.10)(9109.4,0.16)(9112.7,-0.01)(9115.9,-0.10)(9119.2,-0.10)(9123.7,-0.06)(9127,-0.14)(9130.3,0.09)(9134.2,-0.10)(9138.1,-0.31)(9141.4,-0.06)(9144.6,0.24)(9147.9,-0.03)(9151.8,-0.06)(9155.1,-0.36)(9158.3,0.16)(9161.6,-0.06)(9164.9,0.19)(9168.1,0.20)(9171.4,-0.20)(9174.7,0.16)(9177.9,0.16)(9181.2,0.20)(9184.4,0.28)(9187.7,0.18)(9191,0.27)(9194.2,0.11)(9197.5,0.15)(9200.8,0.32)(9204,0.06)(9207.3,0.24)(9210.5,-0.02)(9213.8,0.24)(9217.1,0.085)(9220.3,-0.21)(9223.6,0.11)(9226.9,0.15)(9230.1,-0.06)(9233.4,-0.14)(9236.7,0.16)(9239.9,-0.10)(9243.2,-0.05)(9246.5,-0.125)(9249.7,-0.15)(9254.3,-0.05)(9259.5,0.25)(9264.1,-0.38)(9267.4,0.21)(9270.6,0.39)(9273.9,0.06)(9277.1,0.39)(9280.4,0.11)(9283.7,-0.03)(9286.9,0.27)(9290.2,0.11)(9294.8,0.30)(9298.8,0.125)(9300,0.15)
};
\end{axis}
\end{tikzpicture}
\end{document}
